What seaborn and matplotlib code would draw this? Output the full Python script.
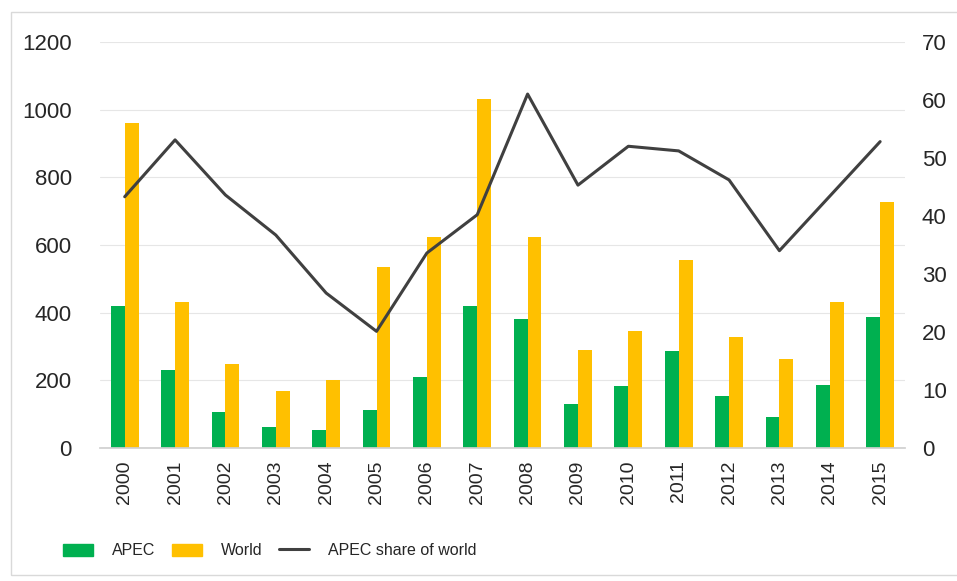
import matplotlib.pyplot as plt
import matplotlib.patches as mpatches
import matplotlib.lines as mlines
import numpy as np
import pandas as pd
import seaborn as sns

# values
years = [str(y) for y in range(2000, 2016)]
apec = [418, 229, 106, 63, 54, 111, 211, 418, 381, 130, 182, 286, 153, 92, 187, 386]
world = [961, 432, 247, 167, 201, 536, 623, 1032, 622, 290, 347, 556, 328, 263, 432, 726]
share = [43.3, 53.1, 43.6, 36.7, 26.7, 20.1, 33.6, 40.2, 61.0, 45.3, 52.0, 51.2, 46.2, 34.0, 43.4, 52.8]

green = "#00B050"
yellow = "#FFC000"
dark = "#404040"

df = pd.DataFrame({"year": years * 2,
                   "value": apec + world,
                   "series": ["APEC"] * len(years) + ["World"] * len(years)})

sns.set_theme(style="white")
plt.rcParams['font.family'] = ['Liberation Sans', 'DejaVu Sans']

fig = plt.figure(figsize=(9.57, 5.81), dpi=100)
ax = fig.add_axes([0.104, 0.229, 0.842, 0.699])

sns.barplot(data=df, x="year", y="value", hue="series", palette=[green, yellow],
            width=0.55, gap=0, saturation=1, linewidth=0, ax=ax, legend=False)
ax.set_ylim(0, 1200)
ax.set_yticks(range(0, 1201, 200))
ax.grid(axis="y", color="#e6e6e6", linewidth=0.8)
ax.set_axisbelow(True)
ax.set_xlim(-0.5, len(years) - 0.5)
ax.set_xlabel("")
ax.set_ylabel("")
for s in ["top", "left", "right"]:
    ax.spines[s].set_visible(False)
ax.spines["bottom"].set_color("#d0d0d0")
ax.tick_params(axis="y", labelsize=16, colors="#262626", length=0, pad=20)
ax.tick_params(axis="x", labelsize=14, colors="#262626", length=0, pad=9, rotation=90)

ax2 = ax.twinx()
sns.pointplot(x=years, y=share, ax=ax2, color=dark, marker="", linewidth=2.2,
              errorbar=None)
ax2.set_ylim(0, 70)
ax2.set_yticks(range(0, 71, 10))
ax2.set_xlim(-0.5, len(years) - 0.5)
ax2.set_ylabel("")
for s in ["top", "left", "right", "bottom"]:
    ax2.spines[s].set_visible(False)
ax2.tick_params(axis="y", labelsize=16, colors="#262626", length=0, pad=12)

# outer frame
fig.patches.append(mpatches.Rectangle((0.011, 0.01), 0.995, 0.969, transform=fig.transFigure,
                                      fill=False, edgecolor="#d9d9d9", linewidth=1))

handles = [mpatches.Patch(color=green, label="APEC"),
           mpatches.Patch(color=yellow, label="World"),
           mlines.Line2D([], [], color=dark, linewidth=2.2, label="APEC share of world")]
fig.legend(handles=handles, loc="center", bbox_to_anchor=(0.282, 0.052), ncol=3,
           frameon=False, fontsize=11.5,
           handlelength=1.9, handleheight=0.8, columnspacing=1.0, handletextpad=1.2)

plt.savefig("out.png", dpi=100)
